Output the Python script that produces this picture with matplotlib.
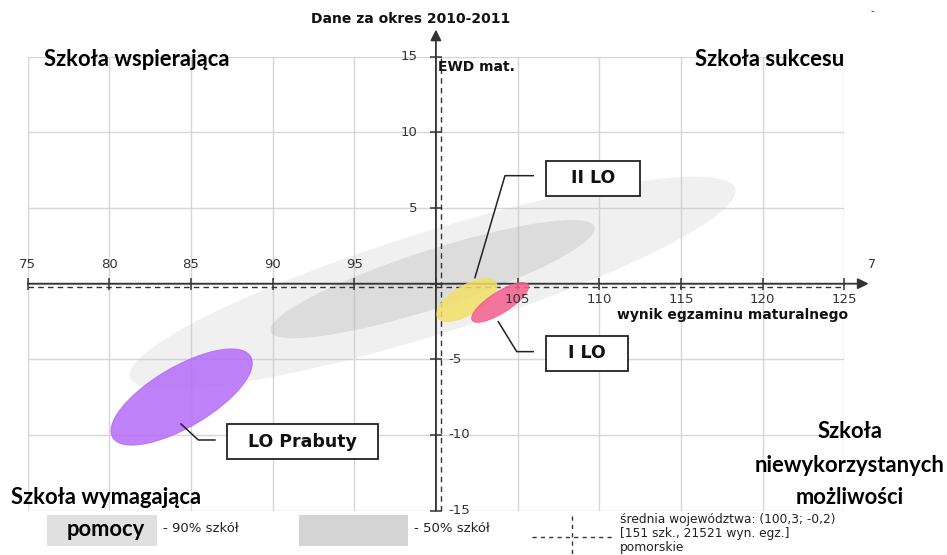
import matplotlib
matplotlib.use("Agg")
import matplotlib.pyplot as plt
from matplotlib.patches import Ellipse, Rectangle

# ---- dane ----
x_ticks = [75, 80, 85, 90, 95, 100, 105, 110, 115, 120, 125]
y_ticks = [-15, -10, -5, 0, 5, 10, 15]
srednia = (100.3, -0.2)

# elipsy: srodek, szerokosc, wysokosc, kat (w jednostkach danych)
rozklad_nazwy = ["90% szkół", "50% szkół"]
rozklad_srodki = [(99.8, 0.05), (99.8, 0.3)]
rozklad_szer = [39.1, 21.0]
rozklad_wys = [6.7, 3.8]
rozklad_kat = [18.7, 19.3]

szkoly = ["LO Prabuty", "II LO", "I LO"]
szkoly_srodki = [(84.43, -7.49), (101.9, -1.08), (103.93, -1.24)]
szkoly_szer = [10.0, 4.26, 4.14]
szkoly_wys = [3.9, 1.85, 1.35]
szkoly_kat = [33, 34, 35]
szkoly_kolory = ["#b46cf8", "#f2e066", "#f4608e"]

# etykiety szkol: srodek ramki i linia odniesienia
etyk_srodki = [(91.83, -10.43), (109.62, 6.96), (109.27, -4.61)]
etyk_rozmiar = [(9.21, 2.31), (5.76, 2.31), (5.04, 2.31)]
etyk_linie = [
    [(86.47, -10.33), (85.45, -10.33), (84.39, -9.27)],
    [(105.96, 7.14), (104.23, 7.14), (102.39, 0.40)],
    [(105.96, -4.49), (104.95, -4.49), (103.82, -2.51)],
]

W, H = 947, 555


def fp(x, y):
    # piksele obrazu -> ulamek figury
    return x / W, 1 - y / H


fig = plt.figure(figsize=(W / 100, H / 100), dpi=100)
ax = fig.add_axes([27.65 / W, 1 - 510.65 / H, 816.5 / W, 453.9 / H])
ax.set_xlim(75, 125)
ax.set_ylim(-15, 15)
ax.set_xticks(x_ticks)
ax.set_yticks(y_ticks)
ax.tick_params(length=0, labelbottom=False, labelleft=False)
ax.grid(True, color="#d6d6d6", lw=1.0, zorder=0)
ax.set_axisbelow(True)
for s in ax.spines.values():
    s.set_visible(False)

# rozklady szkol (szare elipsy)
for c, w, h, a, col, al in zip(rozklad_srodki, rozklad_szer, rozklad_wys, rozklad_kat,
                               ["#c8c8c8", "#b4b4b4"], [0.27, 0.33]):
    ax.add_patch(Ellipse(c, w, h, angle=a, fc=col, ec="none", alpha=al, zorder=1))

# osie z strzalkami
ax.annotate("", xy=(100, 16.8), xytext=(100, -15), annotation_clip=False,
            arrowprops=dict(arrowstyle="-|>", color="#333333", lw=1.3,
                            mutation_scale=16, shrinkA=0, shrinkB=0), zorder=3)
ax.annotate("", xy=(126.5, 0), xytext=(75, 0), annotation_clip=False,
            arrowprops=dict(arrowstyle="-|>", color="#333333", lw=1.3,
                            mutation_scale=16, shrinkA=0, shrinkB=0), zorder=3)
ax.plot(x_ticks, [0] * len(x_ticks), ls="none", marker="|", ms=9, mew=1.1,
        color="#333333", clip_on=False, zorder=3)
ax.plot([100] * len(y_ticks), y_ticks, ls="none", marker="_", ms=9, mew=1.1,
        color="#333333", clip_on=False, zorder=3)

# srednia wojewodztwa
ax.axvline(srednia[0], color="#333333", lw=1.0, ls=(0, (4, 3)), zorder=3)
ax.axhline(srednia[1], color="#333333", lw=1.0, ls=(0, (4, 3)), zorder=3)

# szkoly
for c, w, h, a, col in zip(szkoly_srodki, szkoly_szer, szkoly_wys, szkoly_kat, szkoly_kolory):
    ax.add_patch(Ellipse(c, w, h, angle=a, fc=col, ec=col, lw=0.8, alpha=0.85, zorder=4))

for nazwa, c, (bw, bh), lin in zip(szkoly, etyk_srodki, etyk_rozmiar, etyk_linie):
    ax.add_patch(Rectangle((c[0] - bw / 2, c[1] - bh / 2), bw, bh, fc="white",
                           ec="#222222", lw=1.3, zorder=6))
    ax.text(c[0], c[1], nazwa, ha="center", va="center", fontsize=12.5,
            fontweight="bold", color="#111111", zorder=7)
    xs, ys = zip(*lin)
    ax.plot(xs, ys, color="#222222", lw=1.1, zorder=6)

# etykiety osi
for x in x_ticks:
    if x < 100:
        ax.annotate(str(x), (x, 0), xytext=(0, 9), textcoords="offset points",
                    ha="center", va="bottom", fontsize=9.5, color="#333333", zorder=8)
    elif x > 100:
        ax.annotate(str(x), (x, 0), xytext=(0, -7), textcoords="offset points",
                    ha="center", va="top", fontsize=9.5, color="#333333", zorder=8)
for y in y_ticks:
    if y > 0:
        ax.annotate(str(y), (100, y), xytext=(-13, 0), textcoords="offset points",
                    ha="right", va="center", fontsize=9.5, color="#333333", zorder=8)
    elif y < 0:
        ax.annotate(str(y), (100, y), xytext=(9, 0), textcoords="offset points",
                    ha="left", va="center", fontsize=9.5, color="#333333", zorder=8)

fig.text(*fp(411, 19), "Dane za okres 2010-2011", ha="center", va="center",
         fontsize=10, fontweight="bold", color="#111111")
fig.text(*fp(438, 67), "EWD mat.", ha="left", va="center", fontsize=10,
         fontweight="bold", color="#111111")
fig.text(*fp(848, 315), "wynik egzaminu maturalnego", ha="right", va="center",
         fontsize=10, fontweight="bold", color="#111111")
fig.text(*fp(872, 11), "-", ha="center", va="center", fontsize=8, color="#333333")
fig.text(*fp(872, 265), "7", ha="center", va="center", fontsize=9, color="#333333")

# nazwy cwiartek
kw = dict(fontsize=15.8, fontweight="bold", family="Lato", color="#000000")
fig.text(*fp(137, 60), "Szkoła wspierająca", ha="center", va="center", **kw)
fig.text(*fp(770, 60), "Szkoła sukcesu", ha="center", va="center", **kw)
fig.text(*fp(106, 497), "Szkoła wymagająca", ha="center", va="center", **kw)
fig.text(*fp(850, 432), "Szkoła", ha="center", va="center", **kw)
fig.text(*fp(850, 465), "niewykorzystanych", ha="center", va="center", **kw)
fig.text(*fp(850, 498), "możliwości", ha="center", va="center", **kw)

# legenda
for (x0, x1), col, opis in zip([(47.3, 156.7), (299.3, 408.3)], ["#e0e0e0", "#d4d4d4"],
                               rozklad_nazwy):
    fig.patches.append(Rectangle(fp(x0, 546), (x1 - x0) / W, 31 / H, fc=col, ec="none",
                                 transform=fig.transFigure, figure=fig))
    fig.text(*fp(x1 + 6, 529), "- " + opis, ha="left", va="center", fontsize=9.5,
             color="#222222")
fig.text(*fp(106, 530), "pomocy", ha="center", va="center", **kw)

fig.add_artist(plt.Line2D([571.7 / W] * 2, [1 - 516 / H, 0], color="#333333", lw=1,
                          ls=(0, (3, 3)), transform=fig.transFigure))
fig.add_artist(plt.Line2D([531.7 / W, 613.3 / W], [1 - 537.3 / H] * 2, color="#333333",
                          lw=1, ls=(0, (3, 3)), transform=fig.transFigure))
opis_sr = ["średnia województwa: (100,3; -0,2)", "[151 szk., 21521 wyn. egz.]", "pomorskie"]
for i, t in enumerate(opis_sr):
    fig.text(*fp(620, 520 + 14 * i), t, ha="left", va="center", fontsize=8.8,
             color="#222222")

fig.savefig("out.png", dpi=100)
